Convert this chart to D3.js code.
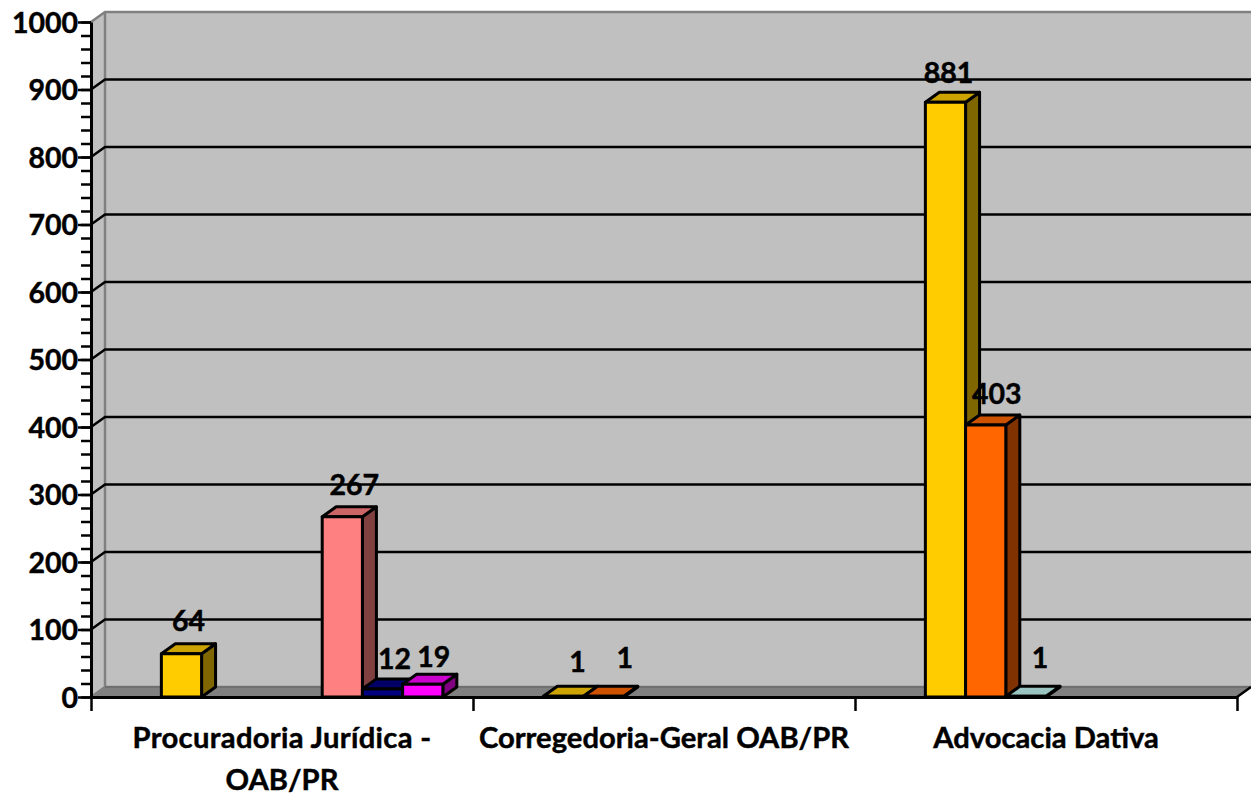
<!DOCTYPE html>
<html>
<head>
<meta charset="utf-8">
<script src="https://cdn.jsdelivr.net/npm/d3@7"></script>
<style>
html,body{margin:0;padding:0;background:#fff;overflow:hidden}
svg{display:block}
text{font-family:Lato,"Open Sans",sans-serif;font-weight:700;fill:#000;stroke:#000;stroke-width:0.45px}
</style>
</head>
<body>
<svg id="c" width="1251" height="795"></svg>
<script>
const categories = [["Procuradoria Jurídica -","OAB/PR"],["Corregedoria-Geral OAB/PR"],["Advocacia Dativa"]];
const seriesNames = ["s0","s1","s2","s3","s4","s5","s6","s7"];
const s1Values = [64,1,881];
const s2Values = [null,1,403];
const s3Values = [null,null,1];
const s5Values = [267,null,null];
const s6Values = [12,null,null];
const s7Values = [19,null,null];
const seriesValues = {s1:s1Values,s2:s2Values,s3:s3Values,s5:s5Values,s6:s6Values,s7:s7Values};
const yTicks = [0,100,200,300,400,500,600,700,800,900,1000];
const minorTicks = d3.range(0,1001,20);

// styling, separate from data
const colors = {
  s1:{front:"#FFCC00",top:"#CCA300",side:"#806600"},
  s2:{front:"#FF6600",top:"#CC5200",side:"#803300"},
  s3:{front:"#CCFFFF",top:"#99C4C0",side:"#668080"},
  s5:{front:"#FF8080",top:"#CC6666",side:"#804040"},
  s6:{front:"#000080",top:"#000066",side:"#000040"},
  s7:{front:"#FF00FF",top:"#CC00CC",side:"#800080"}
};
const labelNudge = {
  "s1|0":[0,-23],"s1|1":[7,-24],"s1|2":[-4,-19],
  "s2|1":[14,-28],"s2|2":[4,-21],"s3|2":[7,-28],
  "s5|0":[5,-22],"s6|0":[5,-20],"s7|0":[4,-17]
};
const numSize = 28.5, catSize = 29.2;
const lineSpacing = {"Procuradoria Jurídica -":"0.32px"};

const dx = 14, dy = -10;
const svg = d3.select("#c");
const x0 = d3.scaleBand().domain(d3.range(categories.length)).range([91,1237]);
const xs = d3.scaleBand().domain(seriesNames).range([0,x0.bandwidth()]).paddingInner(0).paddingOuter(0.75);
const y = d3.scaleLinear().domain([0,1000]).range([697,22]);
const xL = x0.range()[0], xR = x0.range()[1];
const poly = pts => pts.map(p=>p.join(",")).join(" ");

// walls
svg.append("polygon").attr("points",poly([[xL+dx,y(1000)+dy],[1251,y(1000)+dy],[1251,y(0)+dy],[xL+dx,y(0)+dy]])).attr("fill","#C0C0C0");
svg.append("polygon").attr("points",poly([[xL,y(1000)],[xL+dx,y(1000)+dy],[xL+dx,y(0)+dy],[xL,y(0)]])).attr("fill","#C0C0C0");
svg.append("polygon").attr("points",poly([[xL,y(0)],[xL+dx,y(0)+dy],[xR+dx,y(0)+dy],[xR,y(0)]])).attr("fill","#808080");
// wall edges
svg.append("path").attr("d",`M${xL},${y(1000)}L${xL+dx},${y(1000)+dy}L1251,${y(1000)+dy}M${xL+dx},${y(1000)+dy}V${y(0)+dy}H1251M${xL},${y(0)}L${xL+dx},${y(0)+dy}`)
  .attr("fill","none").attr("stroke","#808080").attr("stroke-width",2.5);
svg.append("line").attr("x1",xL+dx).attr("x2",1251).attr("y1",y(0)+dy).attr("y2",y(0)+dy).attr("stroke","#606060").attr("stroke-width",1);

// gridlines
yTicks.filter(t=>t>0&&t<1000).forEach(t=>{
  svg.append("path").attr("d",`M${xL},${y(t)}L${xL+dx},${y(t)+dy}H1251`).attr("fill","none").attr("stroke","#000").attr("stroke-width",2.5);
});

// bars
seriesNames.forEach(s=>{
  const vals = seriesValues[s]; if(!vals) return;
  vals.forEach((v,i)=>{
    if(v==null) return;
    const c = colors[s];
    const l = x0(i)+xs(s), r = l+xs.bandwidth(), t = y(v), b = y(0);
    const g = svg.append("g").attr("stroke","#000").attr("stroke-width",3).attr("stroke-linejoin","round");
    g.append("polygon").attr("points",poly([[r,t],[r+dx,t+dy],[r+dx,b+dy],[r,b]])).attr("fill",c.side);
    g.append("polygon").attr("points",poly([[l,t],[l+dx,t+dy],[r+dx,t+dy],[r,t]])).attr("fill",c.top);
    g.append("rect").attr("x",l).attr("y",t).attr("width",r-l).attr("height",b-t).attr("fill",c.front);
  });
});

// axes
const yMinor = svg.append("g").attr("transform",`translate(${xL},0)`).call(d3.axisLeft(y).tickValues(minorTicks).tickSize(10).tickFormat(""));
yMinor.selectAll("path").remove();
yMinor.selectAll("line").attr("stroke","#000").attr("stroke-width",2.5);
const yAxis = svg.append("g").attr("transform",`translate(${xL},0)`).call(d3.axisLeft(y).tickValues(yTicks).tickFormat(d3.format("d")).tickSize(13).tickSizeOuter(0).tickPadding(0));
yAxis.select("path").attr("stroke","#000").attr("stroke-width",3);
yAxis.selectAll("line").attr("stroke","#000").attr("stroke-width",2.5);
yAxis.selectAll("text").attr("font-size",numSize).attr("x",-13).attr("dy","0.36em").style("font-family","Lato").style("font-weight",700);

const xAxisG = svg.append("g").attr("transform",`translate(0,${y(0)})`);
xAxisG.call(d3.axisBottom(d3.scaleLinear().domain([0,categories.length]).range([xL,xR])).ticks(categories.length).tickFormat("").tickSize(14).tickSizeOuter(0));
xAxisG.select("path").attr("stroke","#000").attr("stroke-width",3);
xAxisG.selectAll("line").attr("stroke","#000").attr("stroke-width",2.5);
svg.append("line").attr("x1",xR).attr("y1",y(0)).attr("x2",xR+dx).attr("y2",y(0)+dy).attr("stroke","#000").attr("stroke-width",2.5);

// category labels
categories.forEach((lines,i)=>{
  const t = svg.append("text").attr("text-anchor","middle").attr("font-size",catSize);
  lines.forEach((ln,k)=>{
    t.append("tspan").attr("x",x0(i)+x0.bandwidth()/2).attr("y",748+k*42)
      .style("letter-spacing",lineSpacing[ln]||null).text(ln);
  });
});

// value labels
seriesNames.forEach(s=>{
  const vals = seriesValues[s]; if(!vals) return;
  vals.forEach((v,i)=>{
    if(v==null) return;
    const n = labelNudge[s+"|"+i];
    svg.append("text").attr("text-anchor","middle").attr("font-size",numSize)
      .attr("x",x0(i)+xs(s)+xs.bandwidth()/2+dx/2+n[0]).attr("y",y(v)+n[1]).text(v);
  });
});
</script>
</body>
</html>
